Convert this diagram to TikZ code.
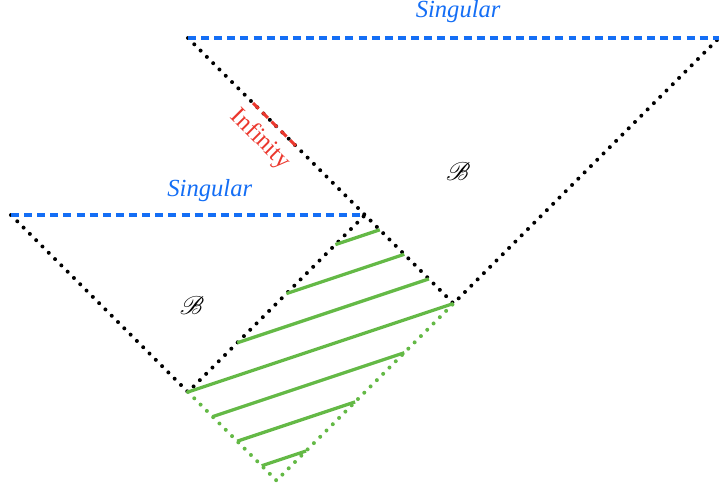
\documentclass[tikz,border=0pt]{standalone}
\usepackage{fontspec}
\setmainfont{Liberation Serif}
\usepackage{amsmath, amssymb}
\usepackage{mathrsfs}
\usetikzlibrary{calc}

\begin{document}
\begin{tikzpicture}[scale=0.885]
    % Colors and styles
    \definecolor{singblue}{RGB}{20, 110, 245} % singular lines
    \definecolor{infred}{RGB}{235, 55, 45} % infinity piece
    \definecolor{hatchgreen}{RGB}{100, 185, 70} % hatched region
    \tikzstyle{every node}=[font=\fontsize{10.5}{12}\selectfont]
    \tikzstyle{horizon}=[line width=1.7pt, line cap=round, dash pattern=on 0pt off 3.8pt]
    \tikzstyle{singular}=[singblue, line width=1.3pt, dash pattern=on 3.4pt off 2.2pt]
    \tikzstyle{hatch}=[hatchgreen, line width=1.4pt]

    \useasboundingbox (-3.186,-1.593) rectangle (9.0,6.644);

    % Corners
    \coordinate (L) at (0,0);
    \coordinate (T) at (3,3);
    \coordinate (R) at (4.5,1.5);
    \coordinate (B) at (1.5,-1.5);
    \coordinate (lowleft) at (-3,3);
    \coordinate (upleft) at (0,6);
    \coordinate (upright) at (9,6);

    % Null boundaries
    \draw[horizon, black] (lowleft) -- (L) -- (T);
    \draw[horizon, black] (upleft) -- (R) -- (upright);
    \draw[horizon, hatchgreen] (L) -- (B) -- (R);

    % Singular lines
    \draw[singular] (lowleft) -- (T);
    \draw[singular] (upleft) -- (upright);
    \node[singblue] (singup) at (4.58,6.44) {\textit{Singular}};
    \node[singblue] (singlow) at (0.37,3.42) {\textit{Singular}};

    % Infinity
    \draw[infred, line width=1.3pt, dash pattern=on 3.4pt off 2.2pt]
        ($(upleft)!0.245!(R)$) -- ($(upleft)!0.41!(R)$)
        node[midway, sloped, below, infred] (inf) {Infinity};

    % Hatching
    \draw[hatch] (L) -- (R);
    \foreach \s in {0.278,0.556,0.833}
    {
        \draw[hatch] ($(L)!\s!(T)$) -- ($(T)!1-\s!(R)$);
        \draw[hatch] ($(L)!\s!(B)$) -- ($(B)!1-\s!(R)$);
    }

    % Regions
    \node (bup) at (4.58,3.73) {$\mathscr{B}$};
    \node (blow) at (0.07,1.47) {$\mathscr{B}$};

\end{tikzpicture}
\end{document}
